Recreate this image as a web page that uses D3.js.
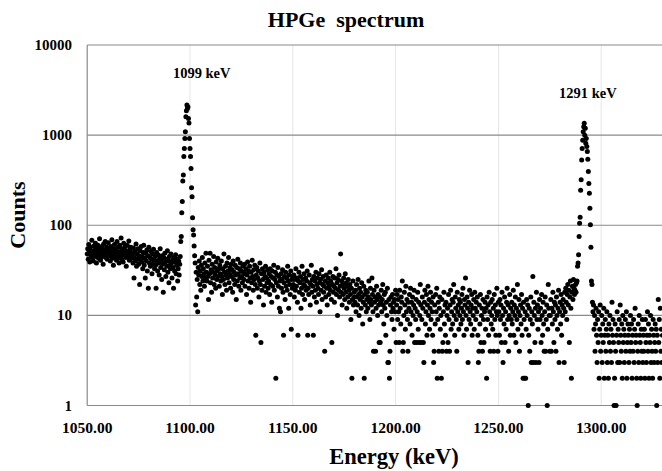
<!DOCTYPE html>
<html>
<head>
<meta charset="utf-8">
<script src="https://cdn.jsdelivr.net/npm/d3@7"></script>
<style>
  html, body { margin: 0; padding: 0; background: #fff; }
  svg text { font-family: "Liberation Serif", "Times New Roman", serif; font-weight: bold; fill: #000; }
</style>
</head>
<body>
<svg id="chart" width="662" height="471"></svg>
<script>
// === 1. data: counts per channel, 0.25 keV per channel ===================
const keVPerChannel = 0.25;

// 1050.00 keV ->
const continuumLow = [
  48, 55, 42, 61, 50, 39, 57, 46, 52, 68, 44, 51, 40, 59, 47, 53, 63, 45, 38, 56, 49, 60, 43, 52, 71, 47, 41, 55, 50, 58, 45, 37, 62, 53, 48, 66, 44, 51, 57, 42, 49, 64, 46, 54,
  52, 40, 58, 47, 69, 43, 50, 36, 55, 61, 45, 49, 53, 41, 66, 48, 57, 44, 38, 60, 51, 46, 72, 42, 55, 50, 39, 63, 47, 53, 58, 44, 35, 51, 60, 46, 49, 67, 41, 54, 45, 57, 50, 43,
  47, 38, 56, 26, 44, 51, 40, 62, 35, 48, 42, 55, 37, 46, 22, 52, 41, 58, 39, 45, 33, 50, 60, 36, 43, 26, 49, 40, 53, 31, 46, 20, 57, 38, 44, 35, 51, 42, 29, 48, 37, 54, 41, 33,
  45, 36, 20, 50, 40, 31, 47, 38, 28, 43, 55, 34, 41, 25, 46, 37, 18, 44, 32, 49, 39, 27, 42, 35, 52, 30, 40, 23, 45, 36, 33, 48, 38, 26, 41, 34, 20, 44, 31, 39, 47, 29, 36, 42, 24, 33, 40, 28, 37, 45
];

// 1095.50 keV ->
const peak1099 = [66, 75, 138, 183, 310, 360, 580, 710, 920, 1090, 1600, 1860, 2160, 1980, 2050, 1530, 1360, 920, 710, 580, 425, 260, 207, 121, 89, 78, 59];

// 1102.25 keV ->
const comptonA = [
  46, 38, 13, 30, 16, 25, 11, 34, 28, 40, 22, 31, 19, 36, 27, 44, 24, 33, 29, 21, 38, 26, 49, 30,
  24, 35, 27, 15, 41, 29, 49, 23, 32, 18, 37, 26, 30, 45, 22, 34, 28, 20, 39, 25, 31, 43, 27, 33,
  21, 36, 29, 24, 40, 27, 17, 33, 25, 48, 30, 22, 35, 28, 19, 38, 26, 31, 44, 23, 29, 34, 20, 37,
  27, 32, 18, 40, 25, 30, 22, 36, 28, 15, 34, 24, 42, 29, 21, 33, 26, 38, 19, 31, 27, 23, 35, 30,
  25, 37, 21, 29, 33, 17, 28, 39, 24, 31, 20, 35, 26, 14, 30, 23, 41, 27, 19, 32, 25, 36, 22, 6,
  28, 34, 20, 26, 31, 16, 24, 38, 22, 5, 29, 19, 33, 25, 13, 30, 21, 27, 35, 18, 26, 23, 32, 20,
  24, 29, 17, 33, 22, 27, 14, 31, 21, 26, 36, 19, 25, 30, 2, 23, 28, 16, 34, 21, 27, 12, 24, 11,
  29, 20, 25, 32, 18, 6, 23, 27, 15, 30, 21, 26, 19, 35, 24, 12, 28, 22, 17, 31, 7, 25, 20, 27
];

// 1150.25 keV ->
const comptonB = [
  22, 28, 16, 25, 19, 33, 21, 26, 14, 6, 24, 30, 18, 23, 27, 12, 20, 35, 17, 25, 22, 29, 15, 21,
  26, 19, 24, 31, 6, 20, 17, 28, 23, 13, 22, 36, 18, 25, 21, 6, 27, 16, 24, 19, 30, 14, 22, 26,
  20, 17, 29, 23, 11, 25, 19, 32, 15, 22, 27, 18, 21, 4, 24, 16, 28, 20, 13, 23, 26, 17, 21, 30,
  19, 24, 15, 5, 22, 27, 18, 21, 14, 26, 20, 33, 17, 23, 10, 25, 19, 28, 16, 21, 48, 18, 24, 13,
  22, 17, 26, 20, 15, 29, 18, 23, 12, 21, 16, 25, 19, 14, 22, 17, 9, 20, 2, 15, 24, 13, 18, 16,
  14, 19, 11, 22, 16, 13, 25, 17, 10, 20, 15, 18, 12, 23, 16, 8, 14, 21, 2, 17, 13, 19, 11, 15,
  18, 12, 16, 24, 14, 9, 20, 15, 13, 26, 17, 11, 4, 19, 14, 16, 4, 12, 21, 15, 10, 17, 13, 5,
  16, 5, 14, 19, 11, 15, 22, 13, 8, 17, 12, 18, 6, 14, 10, 20, 3, 3, 15, 2, 4, 13, 16, 11, 9, 17, 12, 14, 7, 15, 11, 19
];

// 1200.25 keV ->
const comptonC = [
  5, 13, 17, 9, 15, 11, 5, 19, 12, 8, 16, 14, 24, 4, 5, 10, 18, 13, 7, 21, 11, 15, 9, 4, 14,
  12, 17, 8, 20, 11, 14, 6, 16, 10, 13, 19, 5, 12, 9, 15, 5, 11, 18, 7, 14, 5, 10, 22, 13, 5,
  9, 16, 12, 5, 3, 14, 19, 8, 11, 17, 6, 13, 21, 10, 15, 7, 12, 18, 9, 14, 11, 6, 16, 3, 4,
  13, 8, 17, 11, 20, 2, 9, 14, 4, 12, 16, 7, 10, 2, 15, 4, 5, 11, 18, 8, 13, 6, 14, 4, 10,
  12, 5, 17, 9, 4, 13, 19, 7, 11, 15, 8, 14, 22, 10, 6, 16, 12, 9, 4, 18, 11, 13, 7, 15, 10,
  14, 8, 12, 17, 9, 20, 11, 6, 15, 13, 26, 10, 7, 16, 12, 3, 14, 9, 19, 11, 8, 13, 17, 6, 12,
  10, 15, 7, 18, 12, 9, 14, 11, 16, 6, 3, 4, 13, 8, 17, 5, 10, 12, 4, 15, 9, 5, 11, 14, 7,
  12, 2, 16, 9, 13, 6, 18, 11, 4, 14, 8, 10, 15, 7, 12, 4, 17, 9, 13, 6, 11, 20, 10, 4, 14
];

// 1250.25 keV ->
const comptonD = [
  11, 6, 15, 9, 13, 5, 18, 10, 3, 12, 8, 16, 5, 11, 7, 14, 20, 9, 13, 4, 10, 17, 6, 12, 9,
  14, 8, 11, 19, 6, 13, 10, 16, 5, 12, 9, 22, 7, 11, 15, 4, 10, 13, 8, 17, 6, 12, 2, 14, 9,
  2, 11, 2, 7, 15, 10, 13, 1, 6, 12, 4, 9, 16, 3, 11, 8, 27, 3, 14, 10, 5, 12, 3, 18, 9,
  13, 7, 11, 3, 15, 9, 12, 5, 17, 10, 6, 14, 8, 4, 11, 16, 4, 9, 13, 1, 7, 22, 12, 10, 4,
  10, 15, 4, 12, 8, 18, 11, 5, 14, 9, 13, 4, 16, 10, 7, 12, 19, 3, 11, 14, 8, 17, 6, 13, 10,
  15, 12, 3, 18, 11, 20, 14, 9, 17, 22, 13, 19, 5, 16, 24, 12, 2, 18, 21, 15, 25, 20, 17, 19, 22, 18
];

// 1288.00 keV ->
const peak1291 = [23, 24, 35, 38, 47, 75, 105, 123, 245, 320, 530, 710, 880, 1090, 1240, 1355, 1000, 1190, 810, 920, 750, 660, 540, 395, 290, 226, 154, 101, 57, 24, 22];

// 1295.75 keV ->
const tail = [
  14, 11, 13, 7, 10, 4, 8, 12, 6, 3, 9, 5, 11, 2, 7, 13, 4, 6, 10, 3, 8, 5, 12, 2, 6,
  9, 4, 7, 11, 3, 6, 2, 8, 5, 10, 4, 7, 3, 14, 6, 9, 5, 1, 2, 8, 4, 1, 6, 11, 3,
  7, 5, 9, 3, 13, 6, 4, 8, 2, 10, 5, 7, 3, 6, 9, 4, 11, 2, 5, 8, 6, 3, 7, 4, 10,
  5, 8, 2, 6, 4, 9, 3, 7, 12, 5, 6, 2, 1, 4, 8, 3, 10, 6, 5, 2, 7, 4, 9, 3, 6,
  4, 7, 2, 9, 5, 3, 6, 11, 4, 8, 2, 6, 5, 10, 3, 7, 4, 2, 9, 6, 3, 5, 8, 4, 7,
  1, 6, 3, 15, 5, 9, 2, 12, 4, 7, 3, 6
];

const segments = [
  { start: 1050.00, counts: continuumLow },
  { start: 1095.50, counts: peak1099 },
  { start: 1102.25, counts: comptonA },
  { start: 1150.25, counts: comptonB },
  { start: 1200.25, counts: comptonC },
  { start: 1250.25, counts: comptonD },
  { start: 1288.00, counts: peak1291 },
  { start: 1295.75, counts: tail }
];

const xTicks = [1050, 1100, 1150, 1200, 1250, 1300];
const yTicks = [1, 10, 100, 1000, 10000];
const peakLabels = [
  { text: '1099 keV', energy: 1105.7, counts: 4300 },
  { text: '1291 keV', energy: 1293.5, counts: 2550 }
];

const points = segments.flatMap(s =>
  s.counts.map((c, i) => ({ energy: s.start + i * keVPerChannel, counts: c })));

// === 2. scales ============================================================
const svg = d3.select('#chart');
const plot = { left: 87.2, top: 45, bottom: 405.5 };

const x = d3.scaleLinear().domain([1050, 1330]).range([plot.left, plot.left + 280 * 2.056]);
const y = d3.scaleLog().domain([1, 10000]).range([plot.bottom, plot.top]);

svg.append('rect').attr('width', 662).attr('height', 471).attr('fill', '#fff');

// === 3. grid ==============================================================
svg.append('g')
  .selectAll('line')
  .data(xTicks.slice(1))
  .join('line')
  .attr('x1', d => x(d)).attr('x2', d => x(d))
  .attr('y1', plot.top).attr('y2', plot.bottom)
  .attr('stroke', '#e6e6e6').attr('stroke-width', 1);

svg.append('g')
  .selectAll('line')
  .data(yTicks)
  .join('line')
  .attr('x1', plot.left).attr('x2', x(1330))
  .attr('y1', d => y(d)).attr('y2', d => y(d))
  .attr('stroke', '#8a8a8a').attr('stroke-width', 1.2);

svg.append('line')
  .attr('x1', plot.left).attr('x2', plot.left)
  .attr('y1', plot.top).attr('y2', plot.bottom)
  .attr('stroke', '#8a8a8a').attr('stroke-width', 1.2);

// === 4. points ============================================================
svg.append('g')
  .selectAll('circle')
  .data(points)
  .join('circle')
  .attr('cx', d => x(d.energy))
  .attr('cy', d => y(d.counts))
  .attr('r', 2.5)
  .attr('fill', '#000');

// === 5. tick labels & titles ==============================================
svg.append('g')
  .selectAll('text')
  .data(yTicks)
  .join('text')
  .attr('x', 72).attr('y', d => y(d) + 5)
  .attr('text-anchor', 'end')
  .style('font-size', '15px')
  .text(d => d);

svg.append('g')
  .selectAll('text')
  .data(xTicks)
  .join('text')
  .attr('x', d => x(d)).attr('y', 433)
  .attr('text-anchor', 'middle')
  .style('font-size', '15.5px')
  .text(d => d3.format('.2f')(d));

svg.append('g')
  .selectAll('text')
  .data(peakLabels)
  .join('text')
  .attr('x', d => x(d.energy)).attr('y', d => y(d.counts))
  .attr('text-anchor', 'middle')
  .style('font-size', '14.5px')
  .text(d => d.text);

svg.append('text')
  .attr('x', 346).attr('y', 27)
  .attr('text-anchor', 'middle')
  .style('font-size', '22px')
  .attr('xml:space', 'preserve')
  .style('white-space', 'pre')
  .text('HPGe  spectrum');

svg.append('text')
  .attr('x', 394).attr('y', 464)
  .attr('text-anchor', 'middle')
  .style('font-size', '22.5px')
  .text('Energy (keV)');

svg.append('text')
  .attr('transform', 'translate(25,215) rotate(-90)')
  .attr('text-anchor', 'middle')
  .style('font-size', '22px')
  .text('Counts');
</script>
</body>
</html>
